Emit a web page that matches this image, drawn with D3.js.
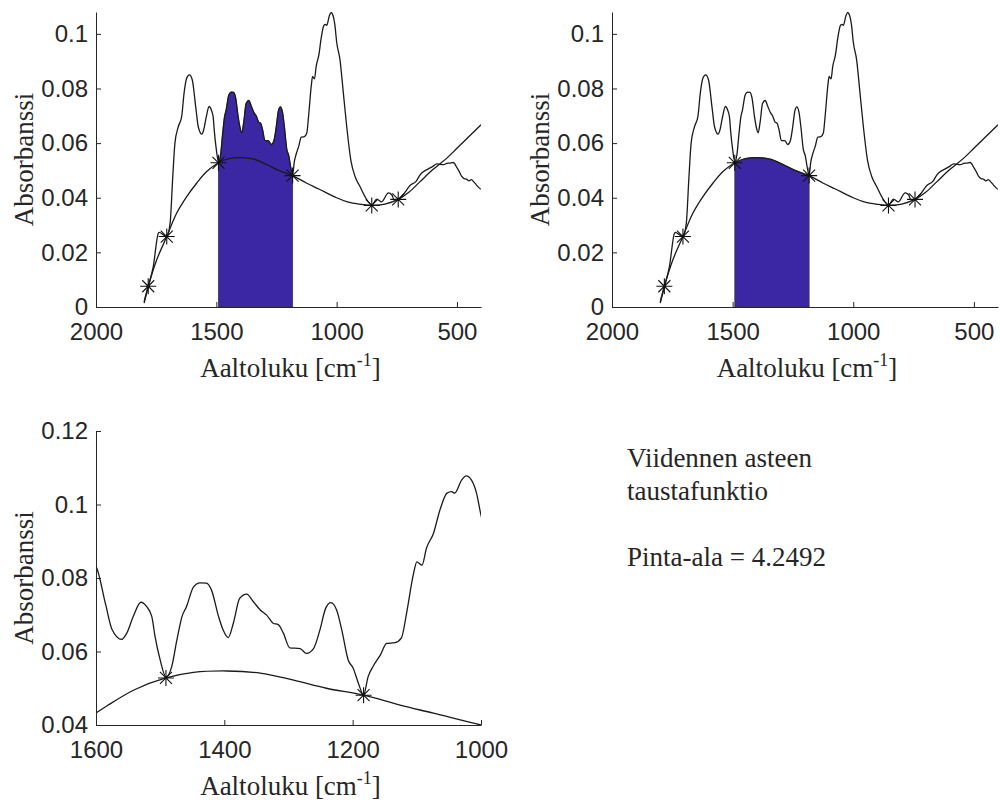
<!DOCTYPE html>
<html>
<head>
<meta charset="utf-8">
<script src="https://cdn.jsdelivr.net/npm/d3@7"></script>
<style>
  body { margin: 0; background: #fff; }
  svg text { fill: #262626; }
</style>
</head>
<body>
<svg id="chart" width="1000" height="806"></svg>
<script>
// Spectrum (wavenumber in cm^-1, absorbance)
var specWave = [1800, 1783, 1762, 1741, 1737, 1720, 1706, 1692, 1681, 1672, 1658, 1644, 1634, 1623, 1612,
  1600, 1585, 1575, 1560, 1552, 1542, 1530, 1521, 1513, 1508, 1500, 1491, 1482, 1474, 1466, 1459, 1448,
  1438, 1428, 1420, 1409, 1402, 1394, 1386, 1376, 1365, 1355, 1344, 1334, 1324, 1316, 1308, 1298, 1282,
  1272, 1261, 1251, 1242, 1234, 1225, 1217, 1207, 1199, 1191, 1183, 1176, 1168, 1157, 1147, 1134, 1124,
  1116, 1105, 1100, 1092, 1085, 1074, 1064, 1053, 1046, 1041, 1030, 1023, 1015, 1007, 1000, 986, 972,
  958, 941, 923, 903, 882, 854, 833, 813, 785, 770, 761, 744, 720, 695, 670, 653, 640, 620, 600, 584,
  570, 555, 542, 530, 515, 500, 490, 480, 470, 460, 450, 440, 430, 420, 410, 401];
var specAbs = [0.0014, 0.0074, 0.0148, 0.0270, 0.0273, 0.0264, 0.0258, 0.0307, 0.0477, 0.0600, 0.0660,
  0.0697, 0.0783, 0.0838, 0.0850, 0.0832, 0.0728, 0.0660, 0.0633, 0.0650, 0.0695, 0.0734, 0.0722, 0.0695,
  0.0641, 0.0577, 0.0531, 0.0559, 0.0631, 0.0695, 0.0722, 0.0776, 0.0787, 0.0786, 0.0767, 0.0695, 0.0659,
  0.0638, 0.0677, 0.0745, 0.0756, 0.0736, 0.0713, 0.0699, 0.0677, 0.0673, 0.0650, 0.0610, 0.0608, 0.0595,
  0.0608, 0.0659, 0.0718, 0.0733, 0.0713, 0.0659, 0.0577, 0.0554, 0.0513, 0.0482, 0.0531, 0.0560, 0.0590,
  0.0622, 0.0624, 0.0637, 0.0704, 0.0813, 0.0844, 0.0835, 0.0881, 0.0922, 0.0985, 0.1031, 0.1035, 0.1031,
  0.1067, 0.1078, 0.1067, 0.1031, 0.0971, 0.0905, 0.0783, 0.0660, 0.0538, 0.0477, 0.0441, 0.0404, 0.0374,
  0.0395, 0.0385, 0.0418, 0.0410, 0.0392, 0.0394, 0.0415, 0.0445, 0.0460, 0.0484, 0.0495, 0.0505, 0.0515,
  0.0524, 0.0522, 0.0521, 0.0526, 0.0527, 0.0529, 0.0510, 0.0495, 0.0478, 0.0470, 0.0468, 0.0462, 0.0466,
  0.0458, 0.0448, 0.0438, 0.0431];

// Fifth degree background curve, also
var baseWave = [1800, 1783, 1748, 1706, 1665, 1623, 1582, 1540, 1491, 1448, 1396, 1344, 1292, 1241, 1183,
  1126, 1074, 1000, 958, 900, 854, 799, 744, 700, 653, 600, 542, 500, 450, 400];
var baseAbs = [0.0020, 0.0076, 0.0172, 0.0258, 0.0343, 0.0404, 0.0453, 0.0496, 0.0528, 0.0543, 0.0547,
  0.0541, 0.0522, 0.0500, 0.0481, 0.0454, 0.0432, 0.0400, 0.0386, 0.0376, 0.0372, 0.0377, 0.0394, 0.0420,
  0.0459, 0.0503, 0.0545, 0.0581, 0.0624, 0.0667];

// points the background passes through (asterisks)
var pointWave = [1783, 1706, 1491, 1183, 854, 744];
var pointAbs = [0.0076, 0.0258, 0.0528, 0.0481, 0.0372, 0.0394];

var areaFrom = 1491, areaTo = 1183;

var xTicksWide = [2000, 1500, 1000, 500];
var yTicksWide = [0, 0.02, 0.04, 0.06, 0.08, 0.1];
var xTicksZoom = [1600, 1400, 1200, 1000];
var yTicksZoom = [0.04, 0.06, 0.08, 0.1, 0.12];
var noteLines = ["Viidennen asteen", "taustafunktio", "", "Pinta-ala = 4.2492"];

var spectrum = specWave.map(function(w, i) { return {w: w, a: specAbs[i]}; });
var background = baseWave.map(function(w, i) { return {w: w, a: baseAbs[i]}; });
var points = pointWave.map(function(w, i) { return {w: w, a: pointAbs[i]}; });

var svg = d3.select("#chart");
var clipCount = 0;

var tickFont = "'Liberation Sans', Arial, sans-serif";
var labelFont = "'Liberation Serif', 'Times New Roman', serif";

function panel(left, top, w, h, xDom, yDom, xTicks, yTicks, fillMode) {
  var g = svg.append("g").attr("transform", "translate(" + left + "," + top + ")");
  var x = d3.scaleLinear().domain(xDom).range([0, w]);
  var y = d3.scaleLinear().domain(yDom).range([h, 0]);

  var id = "clip" + (clipCount++);
  g.append("clipPath").attr("id", id)
    .append("rect").attr("width", w).attr("height", h + 1);
  var plot = g.append("g").attr("clip-path", "url(#" + id + ")");

  // shaded area between the two anchor points
  if (fillMode) {
    var src = fillMode == "spec" ? spectrum : background;
    var part = src.filter(function(d) { return d.w <= areaFrom && d.w >= areaTo; });
    plot.append("path")
      .datum(part)
      .attr("d", d3.area()
        .x(function(d) { return x(d.w); })
        .y0(y(0))
        .y1(function(d) { return y(d.a); })
        .curve(fillMode == "spec" ? d3.curveMonotoneX : d3.curveCatmullRom))
      .attr("fill", "#3b27a3")
      .attr("stroke", "#333")
      .attr("stroke-width", 0.8);
  }

  var line = d3.line()
    .x(function(d) { return x(d.w); })
    .y(function(d) { return y(d.a); });

  plot.append("path")
    .datum(spectrum)
    .attr("d", line.curve(d3.curveMonotoneX))
    .attr("fill", "none")
    .attr("stroke", "#1a1a1a")
    .attr("stroke-width", 1.3);

  plot.append("path")
    .datum(background)
    .attr("d", line.curve(d3.curveCatmullRom))
    .attr("fill", "none")
    .attr("stroke", "#1a1a1a")
    .attr("stroke-width", 1.3);

  // asterisk markers
  var r = 8, q = 6;
  var star = "M" + -r + ",0H" + r + "M0," + -r + "V" + r +
    "M" + -q + "," + -q + "L" + q + "," + q + "M" + -q + "," + q + "L" + q + "," + -q;
  g.selectAll(".pt")
    .data(points.filter(function(d) { return d.w <= xDom[0] && d.w >= xDom[1]; }))
    .enter().append("path")
    .attr("class", "pt")
    .attr("transform", function(d) { return "translate(" + x(d.w) + "," + y(d.a) + ")"; })
    .attr("d", star)
    .attr("fill", "none")
    .attr("stroke", "#111")
    .attr("stroke-width", 1.1);

  // axes, ticks pointing inwards like MATLAB
  var fmt = function(d) { return String(+d.toFixed(2)); };
  var xa = g.append("g").attr("transform", "translate(0," + h + ")")
    .call(d3.axisBottom(x).tickValues(xTicks).tickSize(-5).tickSizeOuter(0).tickPadding(16).tickFormat(fmt));
  var ya = g.append("g")
    .call(d3.axisLeft(y).tickValues(yTicks).tickSize(-5).tickSizeOuter(0).tickPadding(8).tickFormat(fmt));
  [xa, ya].forEach(function(a) {
    a.select(".domain").attr("stroke", "#262626").attr("stroke-width", 1);
    a.selectAll(".tick line").attr("stroke", "#262626");
    a.selectAll(".tick text").attr("font-family", tickFont).attr("font-size", 24).attr("fill", "#262626");
  });

  // axis titles
  g.append("text")
    .attr("transform", "translate(-63," + (h / 2) + ") rotate(-90)")
    .attr("text-anchor", "middle")
    .attr("font-family", labelFont)
    .attr("font-size", 27)
    .text("Absorbanssi");

  var xl = g.append("text")
    .attr("x", w / 2 + 2)
    .attr("y", h + 70)
    .attr("text-anchor", "middle")
    .attr("font-family", labelFont)
    .attr("font-size", 27);
  xl.append("tspan").text("Aaltoluku [cm");
  xl.append("tspan").attr("dy", -11).attr("font-size", 18).text("-1");
  xl.append("tspan").attr("dy", 11).text("]");
}

panel(96, 12, 385, 295, [2000, 400], [0, 0.108], xTicksWide, yTicksWide, "spec");
panel(612, 12, 386, 295, [2000, 400], [0, 0.108], xTicksWide, yTicksWide, "base");
panel(96, 431, 385, 294, [1600, 1000], [0.04, 0.12], xTicksZoom, yTicksZoom, null);

// note text at the lower right
svg.append("g").selectAll("text")
  .data(noteLines)
  .enter().append("text")
  .attr("x", 627)
  .attr("y", function(d, i) { return 467 + i * 33; })
  .attr("font-family", labelFont)
  .attr("font-size", 27)
  .text(function(d) { return d; });
</script>
</body>
</html>
